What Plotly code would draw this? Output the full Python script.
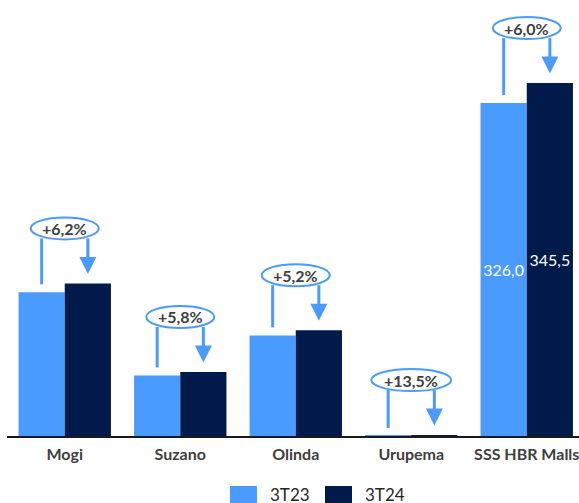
import plotly.graph_objects as go

categories = ["Mogi", "Suzano", "Olinda", "Urupema", "SSS HBR Malls"]
series_names = ["3T23", "3T24"]
values_3t23 = [140.7, 59.3, 98.5, 0.02, 326.0]
values_3t24 = [149.4, 62.7, 103.6, 0.9, 345.5]
growth_labels = ["+6,2%", "+5,8%", "+5,2%", "+13,5%", "+6,0%"]
bar_labels_3t23 = ["", "", "", "", "326,0"]
bar_labels_3t24 = ["", "", "", "", "345,5"]

LIGHT = "#4A9BFF"
NAVY = "#001A4C"
GREY = "#404040"
FONT = "Lato"

W, H = 579, 503
ML, MR, MT, MB = 7, 0, 0, 67
PLOT_W = W - ML - MR
PLOT_H = H - MT - MB
CAT_PX = 115.5
YMAX = 426.8
PX = PLOT_H / YMAX  # pixels per data unit

def py(px):
    return px / PX

fig = go.Figure()
fig.add_trace(go.Bar(
    x=categories, y=values_3t23, name=series_names[0], marker_color=LIGHT,
    marker_line_width=0, text=bar_labels_3t23, textposition="inside",
    insidetextanchor="middle", textangle=0,
    textfont=dict(family=FONT, size=16, color="white"), showlegend=False,
))
fig.add_trace(go.Bar(
    x=categories, y=values_3t24, name=series_names[1], marker_color=NAVY,
    marker_line_width=0, text=bar_labels_3t24, textposition="inside",
    insidetextanchor="middle", textangle=0,
    textfont=dict(family=FONT, size=16, color="white"), showlegend=False,
))

shapes = []
annotations = []
for i, (a, b, lab) in enumerate(zip(values_3t23, values_3t24, growth_labels)):
    ew = 40 if len(lab) > 5 else 34
    # left line from 3T23 bar up to ellipse
    shapes.append(dict(type="line", xref="x", yref="y", x0=i - 0.2, x1=i - 0.2,
                       y0=a + py(8), y1=b + py(45), line=dict(color=LIGHT, width=3),
                       layer="above"))
    # right arrow shaft
    shapes.append(dict(type="line", xref="x", yref="y", x0=i + 0.2, x1=i + 0.2,
                       y0=b + py(45), y1=b + py(25), line=dict(color=LIGHT, width=3),
                       layer="above"))
    # arrow head
    shapes.append(dict(type="path", xref="x", yref="y", xsizemode="pixel", ysizemode="pixel",
                       xanchor=i + 0.2, yanchor=b,
                       path="M -8.5 26.5 L 8.5 26.5 L 0 9.5 Z",
                       fillcolor=LIGHT, line=dict(color=LIGHT, width=0), layer="above"))
    # ellipse
    shapes.append(dict(type="circle", xref="x", yref="y", xsizemode="pixel", ysizemode="pixel",
                       xanchor=i, yanchor=b, x0=-ew, x1=ew, y0=44, y1=66,
                       fillcolor="white", line=dict(color=LIGHT, width=2), layer="above"))
    annotations.append(dict(x=i, y=b + py(55), xref="x", yref="y", text="<b>%s</b>" % lab,
                            showarrow=False, font=dict(family=FONT, size=16, color=GREY),
                            xanchor="center", yanchor="middle"))

# manual legend
def pxx(X):
    return (X - ML) / PLOT_W

def pyy(Y):
    return (PLOT_H + MT - Y) / PLOT_H

legend_items = [(series_names[0], LIGHT, 230, 268), (series_names[1], NAVY, 325, 363)]
for name, col, sx, tx in legend_items:
    shapes.append(dict(type="rect", xref="paper", yref="paper", x0=pxx(sx), x1=pxx(sx + 27),
                       y0=pyy(512), y1=pyy(486), fillcolor=col, line=dict(width=0)))
    annotations.append(dict(x=pxx(tx), y=pyy(494), xref="paper", yref="paper", text=name,
                            showarrow=False, xanchor="left", yanchor="middle",
                            font=dict(family=FONT, size=17, color="#262626")))

fig.update_layout(
    width=W, height=H,
    margin=dict(l=ML, r=MR, t=MT, b=MB, pad=0),
    paper_bgcolor="white", plot_bgcolor="white",
    barmode="group", bargap=0.2, bargroupgap=0,
    uniformtext=dict(minsize=16, mode="show"),
    showlegend=False,
    shapes=shapes, annotations=annotations,
    xaxis=dict(type="category", range=[-0.5, -0.5 + PLOT_W / CAT_PX],
               showline=True, linecolor="#1a1a1a", linewidth=2,
               ticks="outside", ticklen=3, tickcolor="rgba(0,0,0,0)",
               tickfont=dict(family=FONT, size=16, color=GREY, weight="bold"),
               showgrid=False, zeroline=False, automargin=False, fixedrange=True),
    yaxis=dict(range=[0, YMAX], visible=False, showgrid=False, zeroline=False,
               fixedrange=True),
    font=dict(family=FONT),
)

fig.write_html("out.html")
